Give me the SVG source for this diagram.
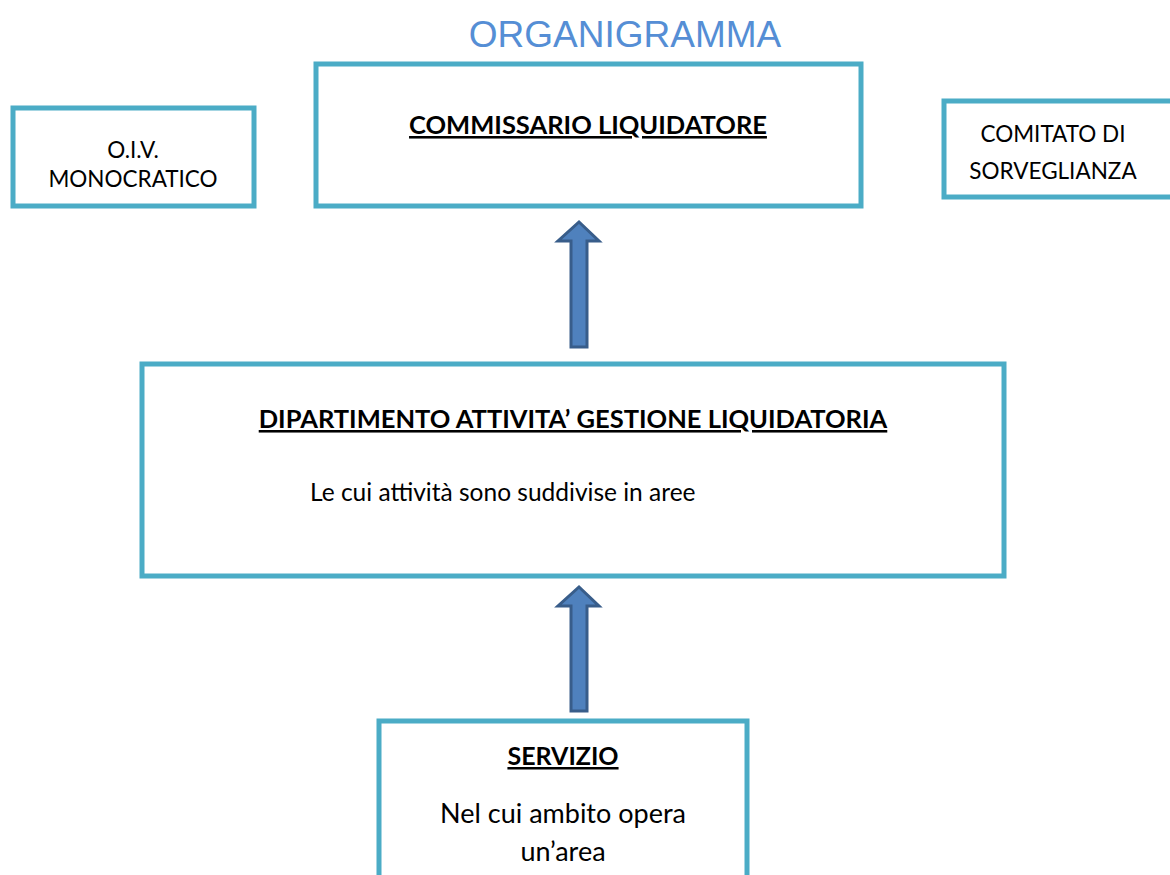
<svg xmlns="http://www.w3.org/2000/svg" width="1170" height="875" viewBox="0 0 1170 875">
<style>
.box{fill:#fff;stroke:#4BACC6;stroke-width:5}
.t{font-family:Lato,"Open Sans","Liberation Sans",sans-serif;font-size:22.5px;fill:#000;text-anchor:middle}
.b{font-weight:bold;text-decoration:underline;font-size:25.5px}
.arr{fill:#4F81BD;stroke:#385D8A;stroke-width:3;stroke-linejoin:miter}
</style>
<rect width="1170" height="875" fill="#fff"/>
<text x="625" y="47" font-family="Liberation Sans,Arial,sans-serif" font-size="37" fill="#558ED5" text-anchor="middle">ORGANIGRAMMA</text>
<g id="commissario">
<rect class="box" x="316" y="64" width="545" height="142"/>
<text class="t b" x="588" y="134">COMMISSARIO LIQUIDATORE</text>
</g>
<g id="oiv">
<rect class="box" x="13" y="108" width="241" height="98"/>
<text class="t" x="133" y="158">O.I.V.</text>
<text class="t" x="133" y="187">MONOCRATICO</text>
</g>
<g id="comitato">
<rect class="box" x="944" y="101" width="240" height="96"/>
<text class="t" x="1053" y="142">COMITATO DI</text>
<text class="t" x="1053" y="179">SORVEGLIANZA</text>
</g>
<g id="dipartimento">
<rect class="box" x="142" y="364" width="862" height="212"/>
<text class="t b" x="573" y="428">DIPARTIMENTO ATTIVITA’ GESTIONE LIQUIDATORIA</text>
<text class="t" x="310" y="501" style="text-anchor:start;font-size:24.5px">Le cui attività sono suddivise in aree</text>
</g>
<g id="servizio">
<rect class="box" x="379" y="721" width="368" height="170"/>
<text class="t b" x="563" y="765" style="font-size:25px">SERVIZIO</text>
<text class="t" x="563" y="823" style="font-size:27px">Nel cui ambito opera</text>
<text class="t" x="563" y="861" style="font-size:27px">un’area</text>
</g>
<g id="connectors">
<path class="arr" d="M571,347 L571,241 L558,241 L579,222 L599,241 L587,241 L587,347 Z"/>
<path class="arr" d="M571,711 L571,606 L558,606 L579,587 L599,606 L587,606 L587,711 Z"/>
</g>
</svg>
